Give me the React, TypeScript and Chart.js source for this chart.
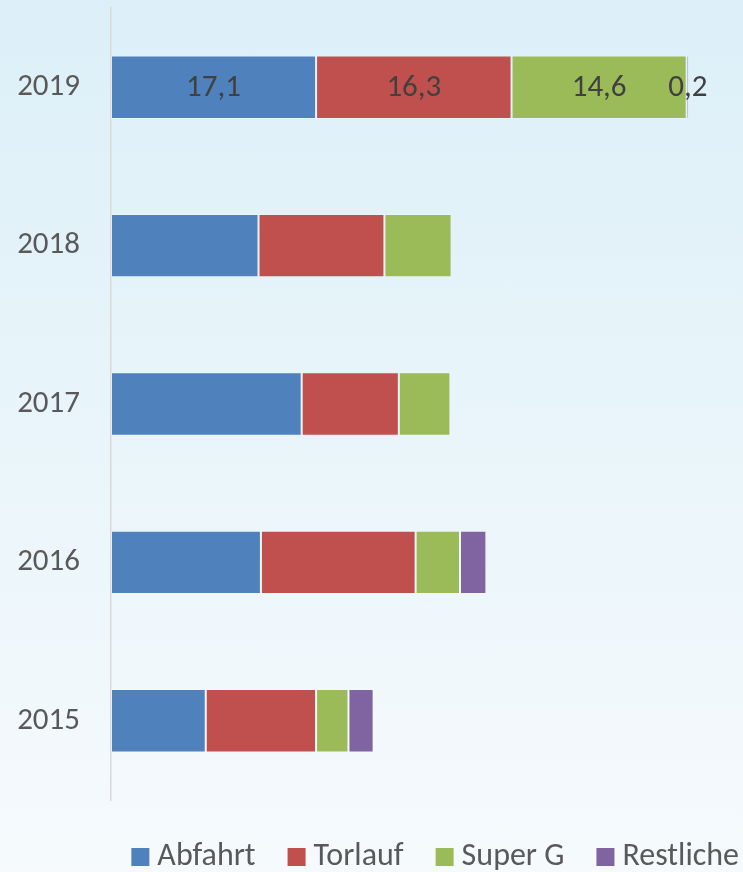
import React, { useEffect, useRef } from "react";
import { Chart, registerables } from "chart.js";

Chart.register(...registerables);

const categories = ["2019", "2018", "2017", "2016", "2015"];
const abfahrt = [17.1, 12.3, 15.9, 12.5, 7.9];
const torlauf = [16.3, 10.5, 8.1, 12.9, 9.2];
const superG = [14.6, 5.6, 4.3, 3.7, 2.7];
const restliche = [0.2, 0, 0, 2.2, 2.1];
const seriesNames = ["Abfahrt", "Torlauf", "Super G", "Restliche"];
const seriesColors = ["#4F81BD", "#C0504D", "#9BBB59", "#8064A2"];
const labelledCategory = "2019";
const xMax = 55.7;

const FONT = "Carlito, Calibri, Lato, sans-serif";
const FONT_SIZE = 31;
const LEGEND_FONT_SIZE = 32;

const valueLabels = {
  id: "valueLabels",
  afterDatasetsDraw(chart: any) {
    const ctx = chart.ctx;
    const idx = chart.data.labels.indexOf(labelledCategory);
    if (idx < 0) return;
    ctx.save();
    ctx.font = `${FONT_SIZE}px ${FONT}`;
    ctx.fillStyle = "#404040";
    ctx.textAlign = "center";
    ctx.textBaseline = "middle";
    chart.data.datasets.forEach((ds: any, i: number) => {
      const meta = chart.getDatasetMeta(i);
      const el: any = meta.data[idx];
      const v = ds.data[idx];
      if (!el || v == null) return;
      const x = (el.x + el.base) / 2;
      ctx.fillText(Number(v).toFixed(1).replace(".", ","), x, el.y + 1);
    });
    ctx.restore();
  },
};

export default function App() {
  const ref = useRef<HTMLCanvasElement | null>(null);

  useEffect(() => {
    if (!ref.current) return;
    const seriesData = [abfahrt, torlauf, superG, restliche];
    const chart = new Chart(ref.current, {
      type: "bar",
      data: {
        labels: categories,
        datasets: seriesNames.map((name, i) => ({
          label: name,
          data: seriesData[i],
          backgroundColor: seriesColors[i],
          borderColor: "rgba(255,255,255,0.22)",
          borderWidth: 1,
          borderSkipped: false,
          barPercentage: 0.5,
          categoryPercentage: 0.8,
        })),
      },
      options: {
        indexAxis: "y",
        responsive: false,
        animation: false,
        layout: { padding: { top: 8, left: 0, right: 11, bottom: 0 } },
        scales: {
          x: {
            stacked: true,
            min: 0,
            max: xMax,
            display: true,
            grid: { display: false },
            border: { display: false },
            ticks: { display: false },
            afterFit: (s: any) => {
              s.height = 1;
            },
          },
          y: {
            stacked: true,
            grid: { display: false, drawTicks: false },
            border: { display: true, color: "#D9D9D9", width: 1.5 },
            ticks: {
              color: "#595959",
              padding: 31,
              font: { family: FONT, size: FONT_SIZE },
            },
            afterFit: (s: any) => {
              s.width = 111;
              s.paddingTop = 0;
              s.paddingBottom = 0;
            },
          },
        },
        plugins: {
          legend: {
            position: "bottom",
            align: "end",
            labels: {
              usePointStyle: true,
              pointStyle: "rect",
              boxWidth: 2,
              boxHeight: 18,
              padding: 40,
              color: "#595959",
              font: { family: FONT, size: LEGEND_FONT_SIZE },
              generateLabels: (c: any) =>
                (Chart as any).defaults.plugins.legend.labels
                  .generateLabels(c)
                  .map((l: any) => ({ ...l, lineWidth: 0, pointStyle: "rect" })),
            },
          },
          tooltip: { enabled: false },
        },
      },
      plugins: [valueLabels],
    } as any);
    return () => chart.destroy();
  }, []);

  return (
    <div
      style={{
        position: "fixed",
        left: 0,
        top: 0,
        width: 743,
        height: 872,
        overflow: "hidden",
        background: "linear-gradient(180deg, #DCEFF8 0%, #E9F5FA 50%, #F6FAFD 100%)",
      }}
    >
      <canvas ref={ref} width={790} height={883} style={{ display: "block" }} />
    </div>
  );
}
